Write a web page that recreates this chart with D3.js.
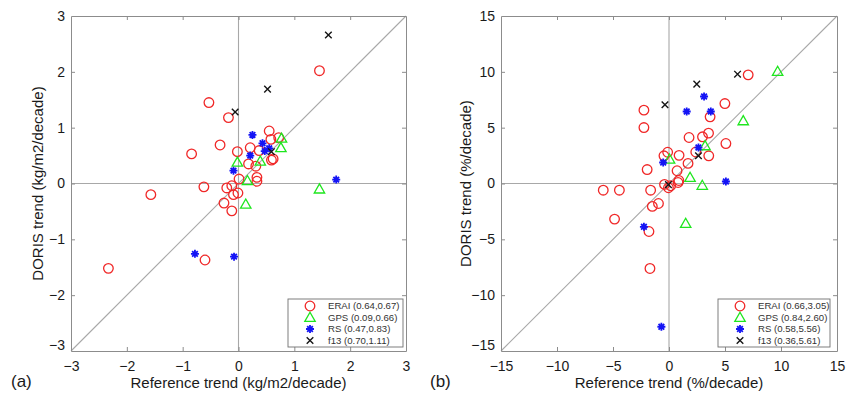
<!DOCTYPE html>
<html><head><meta charset="utf-8">
<script src="https://cdn.jsdelivr.net/npm/d3@7"></script>
<style>html,body{margin:0;padding:0;background:#fff;}svg{display:block;font-family:"Liberation Sans",Arial,sans-serif;}</style>
</head><body>
<svg id="chart" width="848" height="393"></svg>
<script>
// ---- Panel (a): kg/m2/decade ----
const aTicks = [-3,-2,-1,0,1,2,3];
const aEraiX = [1.45,-0.53,-0.18,-0.84,-0.33,-0.02,0.21,0.55,0.58,0.72,0.37,0.62,0.59,0.18,0.31,0.33,0.01,0.33,-1.57,-0.62,-0.21,-0.12,-0.09,-0.01,-0.26,-0.12,-0.60,-2.33];
const aEraiY = [2.02,1.45,1.18,0.53,0.69,0.57,0.64,0.94,0.79,0.82,0.59,0.44,0.42,0.35,0.31,0.11,0.08,0.04,-0.20,-0.06,-0.08,-0.04,-0.20,-0.17,-0.35,-0.49,-1.37,-1.52];
const aGpsX = [-0.02,0.16,0.39,0.77,0.76,1.45,0.13];
const aGpsY = [0.38,0.05,0.40,0.81,0.64,-0.10,-0.37];
const aRsX = [0.25,0.43,0.21,0.47,0.55,-0.09,1.75,-0.78,-0.08];
const aRsY = [0.87,0.72,0.50,0.58,0.63,0.23,0.07,-1.26,-1.31];
const aF13X = [1.61,0.52,-0.06,0.59];
const aF13Y = [2.66,1.69,1.28,0.57];
const aLegend = ["ERAI (0.64,0.67)","GPS (0.09,0.66)","RS (0.47,0.83)","f13 (0.70,1.11)"];

// ---- Panel (b): %/decade ----
const bTicks = [-15,-10,-5,0,5,10,15];
const bEraiX = [7.07,4.99,3.67,3.53,2.99,1.79,5.08,-2.24,-2.24,-0.12,-0.45,0.90,2.39,3.55,-1.95,1.70,0.72,0.88,-0.40,-0.05,0.15,0.81,-5.87,-4.43,-1.64,-1.49,-0.94,-4.86,-1.79,-1.70];
const bEraiY = [9.73,7.16,5.97,4.51,4.18,4.12,3.58,6.57,5.01,2.80,2.48,2.52,2.82,2.48,1.25,1.80,1.14,0.27,-0.08,-0.38,-0.20,0.09,-0.60,-0.60,-0.60,-2.05,-1.79,-3.19,-4.30,-7.61];
const bGpsX = [9.70,6.63,0.05,3.22,1.88,2.97,1.49];
const bGpsY = [10.03,5.61,2.18,3.37,0.54,-0.17,-3.58];
const bRsX = [3.13,1.58,3.73,2.63,-0.52,5.08,-2.24,-0.68];
const bRsY = [7.79,6.45,6.45,3.22,1.88,0.18,-3.88,-12.83];
const bF13X = [6.12,2.48,-0.36,2.63,-0.05];
const bF13Y = [9.79,8.90,7.05,2.48,-0.10];
const bLegend = ["ERAI (0.66,3.05)","GPS (0.84,2.60)","RS (0.58,5.56)","f13 (0.36,5.61)"];

const COLORS = {erai:"#f02828", gps:"#1ee61e", rs:"#1414f5", f13:"#151515"};
const FONT = '"Liberation Sans",Arial,sans-serif';

const svg = d3.select("#chart");

function drawMarker(g, type, x, y) {
  if (type === "erai") {
    g.append("circle").attr("cx", x).attr("cy", y).attr("r", 4.8)
      .attr("fill", "none").attr("stroke", COLORS.erai).attr("stroke-width", 1.3);
  } else if (type === "gps") {
    const s = 5.2;
    g.append("path").attr("d", `M${x},${y - s}L${x + s},${y + s * 0.75}L${x - s},${y + s * 0.75}Z`)
      .attr("fill", "none").attr("stroke", COLORS.gps).attr("stroke-width", 1.3);
  } else if (type === "rs") {
    const r = 4;
    const p = [];
    for (let k = 0; k < 4; k++) {
      const a = k * Math.PI / 4;
      p.push(`M${x - r * Math.cos(a)},${y - r * Math.sin(a)}L${x + r * Math.cos(a)},${y + r * Math.sin(a)}`);
    }
    g.append("path").attr("d", p.join("")).attr("stroke", COLORS.rs).attr("stroke-width", 1.8).attr("fill", "none");
    g.append("circle").attr("cx", x).attr("cy", y).attr("r", 2).attr("fill", COLORS.rs);
  } else {
    const r = 3.3;
    g.append("path").attr("d", `M${x - r},${y - r}L${x + r},${y + r}M${x - r},${y + r}L${x + r},${y - r}`)
      .attr("stroke", COLORS.f13).attr("stroke-width", 1.4).attr("fill", "none");
  }
}

function panel(opt) {
  const x = d3.scaleLinear().domain([opt.ticks[0], opt.ticks[opt.ticks.length - 1]]).range([opt.x0, opt.x1]);
  const y = d3.scaleLinear().domain([opt.ticks[0], opt.ticks[opt.ticks.length - 1]]).range([351, 16]);
  const g = svg.append("g");
  const lo = opt.ticks[0], hi = opt.ticks[opt.ticks.length - 1];
  const grey = "#a8a8a8";
  g.append("line").attr("x1", x(0)).attr("x2", x(0)).attr("y1", y(lo)).attr("y2", y(hi)).attr("stroke", grey).attr("stroke-width", 1.1);
  g.append("line").attr("x1", x(lo)).attr("x2", x(hi)).attr("y1", y(0)).attr("y2", y(0)).attr("stroke", grey).attr("stroke-width", 1.1);
  g.append("line").attr("x1", x(lo)).attr("x2", x(hi)).attr("y1", y(lo)).attr("y2", y(hi)).attr("stroke", grey).attr("stroke-width", 1.1);

  const axColor = "#8c8c8c";
  const mk = (axis) => axis.tickValues(opt.ticks).tickFormat(d3.format("d"));
  const bottom = g.append("g").attr("transform", `translate(0,${y(lo)})`).call(mk(d3.axisBottom(x)).tickSizeInner(-4).tickSizeOuter(0).tickPadding(10));
  const left = g.append("g").attr("transform", `translate(${x(lo)},0)`).call(mk(d3.axisLeft(y)).tickSizeInner(-4).tickSizeOuter(0).tickPadding(6));
  const top = g.append("g").attr("transform", `translate(0,${y(hi)})`).call(d3.axisTop(x).tickValues(opt.ticks).tickSizeInner(-4).tickSizeOuter(0).tickFormat(""));
  const right = g.append("g").attr("transform", `translate(${x(hi)},0)`).call(d3.axisRight(y).tickValues(opt.ticks).tickSizeInner(-4).tickSizeOuter(0).tickFormat(""));
  [bottom, left, top, right].forEach(a => {
    a.selectAll("path.domain").attr("stroke", axColor);
    a.selectAll(".tick line").attr("stroke", axColor);
    a.selectAll("text").attr("fill", "#1a1a1a").style("font-size", "14px").style("font-family", FONT);
  });
  [bottom, top, left, right].forEach(a => a.selectAll(".tick").filter(d => d === lo || d === hi).select("line").remove());
  left.selectAll(".tick").filter(d => d === lo).select("text").attr("dy", "-0.1em");

  const pts = g.append("g");
  opt.series.forEach(s => {
    s.xs.forEach((v, i) => drawMarker(pts, s.type, x(v), y(s.ys[i])));
  });

  const lg = g.append("g");
  const lx0 = opt.legend.x, ly0 = 299;
  lg.append("rect").attr("x", lx0).attr("y", ly0).attr("width", opt.legend.w).attr("height", 48)
    .attr("fill", "#fff").attr("stroke", "#707070").attr("stroke-width", 0.9);
  opt.legendLabels.forEach((t, i) => {
    const cy = ly0 + 7 + i * 11.5;
    drawMarker(lg, opt.series[i].type, lx0 + 22, cy);
    lg.append("text").attr("x", lx0 + 40).attr("y", cy + 3.4).text(t)
      .style("font-size", "9.6px").style("font-family", FONT).attr("fill", "#333");
  });

  svg.append("text").attr("x", (opt.x0 + opt.x1) / 2).attr("y", 388).attr("text-anchor", "middle")
    .style("font-size", "15px").style("font-family", FONT).attr("fill", "#1a1a1a").text(opt.xlabel);
  svg.append("text").attr("transform", `translate(${opt.ylx},${(16 + 351) / 2}) rotate(-90)`).attr("text-anchor", "middle")
    .style("font-size", "15px").style("font-family", FONT).attr("fill", "#1a1a1a").text(opt.ylabel);
  svg.append("text").attr("x", opt.tagx).attr("y", 387).style("font-size", "17px").style("font-family", FONT).attr("fill", "#1a1a1a").text(opt.tag);
}

panel({
  x0: 71, x1: 406, ticks: aTicks,
  series: [
    {type: "erai", xs: aEraiX, ys: aEraiY},
    {type: "gps", xs: aGpsX, ys: aGpsY},
    {type: "rs", xs: aRsX, ys: aRsY},
    {type: "f13", xs: aF13X, ys: aF13Y}
  ],
  legendLabels: aLegend, legend: {x: 288, w: 115},
  xlabel: "Reference trend (kg/m2/decade)", ylabel: "DORIS trend (kg/m2/decade)", ylx: 43, tag: "(a)", tagx: 11
});
panel({
  x0: 501, x1: 837, ticks: bTicks,
  series: [
    {type: "erai", xs: bEraiX, ys: bEraiY},
    {type: "gps", xs: bGpsX, ys: bGpsY},
    {type: "rs", xs: bRsX, ys: bRsY},
    {type: "f13", xs: bF13X, ys: bF13Y}
  ],
  legendLabels: bLegend, legend: {x: 718, w: 112},
  xlabel: "Reference trend (%/decade)", ylabel: "DORIS trend (%/decade)", ylx: 471, tag: "(b)", tagx: 430
});
</script>
</body></html>
